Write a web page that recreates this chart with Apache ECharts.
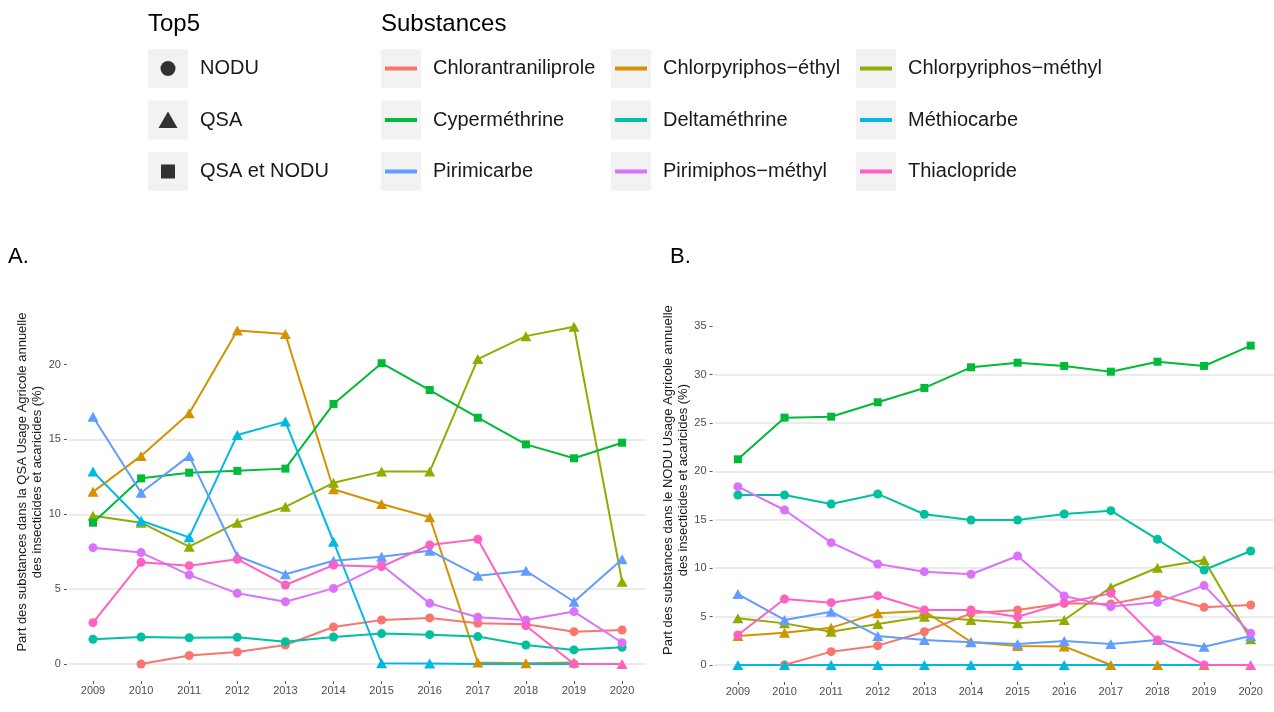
<!DOCTYPE html>
<html>
<head>
<meta charset="utf-8">
<script src="https://cdn.jsdelivr.net/npm/echarts@6/dist/echarts.min.js"></script>
<style>
  html, body { margin: 0; padding: 0; background: #ffffff; }
  #chart { width: 1274px; height: 712px; }
</style>
</head>
<body>
<div id="chart"></div>
<script>
// ---- Data -----------------------------------------------------------------
const years = ['2009', '2010', '2011', '2012', '2013', '2014', '2015', '2016', '2017', '2018', '2019', '2020'];

const substances = [
  'Chlorantraniliprole', 'Chlorpyriphos−éthyl', 'Chlorpyriphos−méthyl',
  'Cyperméthrine', 'Deltaméthrine', 'Méthiocarbe',
  'Pirimicarbe', 'Pirimiphos−méthyl', 'Thiaclopride'
];
const substanceColors = ['#F8766D', '#D39200', '#93AA00', '#00BA38', '#00C19F', '#00B9E3', '#619CFF', '#DB72FB', '#FF61C3'];

// Share of each substance in the annual agricultural QSA of insecticides/acaricides (%)
const qsaChlorantraniliprole = [null, 0, 0.57, 0.8, 1.27, 2.47, 2.94, 3.08, 2.72, 2.65, 2.16, 2.27];
const qsaChlorpyriphosEthyl = [11.5, 13.9, 16.75, 22.27, 22.04, 11.67, 10.69, 9.8, 0.1, 0.05, 0.1, null];
const qsaChlorpyriphosMethyl = [9.9, 9.44, 7.84, 9.44, 10.5, 12.1, 12.85, 12.85, 20.37, 21.9, 22.53, 5.5];
const qsaCypermethrine = [9.44, 12.4, 12.78, 12.9, 13.05, 17.37, 20.09, 18.3, 16.45, 14.67, 13.74, 14.78];
const qsaDeltamethrine = [1.65, 1.8, 1.75, 1.78, 1.49, 1.8, 2.03, 1.96, 1.83, 1.27, 0.94, 1.12];
const qsaMethiocarbe = [12.85, 9.57, 8.46, 15.3, 16.19, 8.17, 0.05, 0.03, 0, 0, 0, 0];
const qsaPirimicarbe = [16.52, 11.44, 13.9, 7.21, 5.99, 6.9, 7.17, 7.57, 5.9, 6.23, 4.16, 6.99];
const qsaPirimiphosMethyl = [7.77, 7.44, 5.95, 4.72, 4.16, 5.05, 6.61, 4.05, 3.12, 2.94, 3.5, 1.42];
const qsaThiaclopride = [2.76, 6.79, 6.57, 7.0, 5.28, 6.6, 6.5, 7.95, 8.33, 2.56, 0, 0];

// Share of each substance in the annual agricultural NODU of insecticides/acaricides (%)
const noduChlorantraniliprole = [null, 0, 1.38, 2.0, 3.44, 5.34, 5.68, 6.37, 6.3, 7.23, 5.96, 6.2];
const noduChlorpyriphosEthyl = [3.0, 3.34, 3.86, 5.34, 5.58, 2.38, 1.97, 1.92, 0, 0, 0, null];
const noduChlorpyriphosMethyl = [4.82, 4.3, 3.44, 4.24, 4.99, 4.65, 4.3, 4.65, 8.03, 10.05, 10.85, 2.65];
const noduCypermethrine = [21.25, 25.55, 25.65, 27.14, 28.62, 30.75, 31.23, 30.89, 30.3, 31.33, 30.89, 32.99];
const noduDeltamethrine = [17.56, 17.56, 16.63, 17.67, 15.57, 14.98, 14.98, 15.6, 15.94, 12.98, 9.81, 11.78];
const noduMethiocarbe = [0, 0, 0, 0, 0, 0, 0, 0, 0, 0, 0, 0];
const noduPirimicarbe = [7.33, 4.65, 5.51, 3.0, 2.58, 2.34, 2.17, 2.48, 2.17, 2.58, 1.89, 3.0];
const noduPirimiphosMethyl = [18.42, 16.01, 12.64, 10.43, 9.64, 9.37, 11.26, 7.13, 6.03, 6.47, 8.2, 3.27];
const noduThiaclopride = [3.1, 6.82, 6.44, 7.16, 5.68, 5.68, 4.99, 6.4, 7.4, 2.58, 0, 0];

// Top5 membership per year: N = NODU, Q = QSA, B = QSA et NODU, null = none
const top5Chlorantraniliprole = [null, 'N', 'N', 'N', 'N', 'N', 'N', 'N', 'N', 'N', 'N', 'N'];
const top5ChlorpyriphosEthyl = ['Q', 'Q', 'Q', 'Q', 'Q', 'Q', 'Q', 'Q', 'Q', 'Q', 'Q', null];
const top5ChlorpyriphosMethyl = ['Q', 'Q', 'Q', 'Q', 'Q', 'Q', 'Q', 'Q', 'Q', 'Q', 'Q', 'Q'];
const top5Cypermethrine = ['B', 'B', 'B', 'B', 'B', 'B', 'B', 'B', 'B', 'B', 'B', 'B'];
const top5Deltamethrine = ['N', 'N', 'N', 'N', 'N', 'N', 'N', 'N', 'N', 'N', 'N', 'N'];
const top5Methiocarbe = ['Q', 'Q', 'Q', 'Q', 'Q', 'Q', 'Q', 'Q', null, null, null, null];
const top5Pirimicarbe = ['Q', 'Q', 'Q', 'Q', 'Q', 'Q', 'Q', 'Q', 'Q', 'Q', 'Q', 'Q'];
const top5PirimiphosMethyl = ['N', 'N', 'N', 'N', 'N', 'N', 'N', 'N', 'N', 'N', 'N', 'N'];
const top5Thiaclopride = ['N', 'N', 'N', 'N', 'N', 'N', 'N', 'N', 'N', 'N', 'N', 'Q'];

const top5Names = ['NODU', 'QSA', 'QSA et NODU'];
const yTicksQsa = [0, 5, 10, 15, 20];
const yTicksNodu = [0, 5, 10, 15, 20, 25, 30, 35];

// ---- Assembly ---------------------------------------------------------------
const qsa = [qsaChlorantraniliprole, qsaChlorpyriphosEthyl, qsaChlorpyriphosMethyl, qsaCypermethrine,
  qsaDeltamethrine, qsaMethiocarbe, qsaPirimicarbe, qsaPirimiphosMethyl, qsaThiaclopride];
const nodu = [noduChlorantraniliprole, noduChlorpyriphosEthyl, noduChlorpyriphosMethyl, noduCypermethrine,
  noduDeltamethrine, noduMethiocarbe, noduPirimicarbe, noduPirimiphosMethyl, noduThiaclopride];
const top5 = [top5Chlorantraniliprole, top5ChlorpyriphosEthyl, top5ChlorpyriphosMethyl, top5Cypermethrine,
  top5Deltamethrine, top5Methiocarbe, top5Pirimicarbe, top5PirimiphosMethyl, top5Thiaclopride];

const FONT = '"Liberation Sans", Arial, sans-serif';
const shapeSymbol = { N: 'circle', Q: 'triangle', B: 'rect' };
const shapeSize = { N: 9, Q: [11, 10], B: 8 };

function lineSeries(panel, values, i) {
  return {
    type: 'line', name: substances[i], xAxisIndex: panel, yAxisIndex: panel,
    data: values.map(v => (v == null ? '-' : v)),
    showSymbol: false, clip: false, z: 2,
    color: substanceColors[i],
    lineStyle: { color: substanceColors[i], width: 2 },
    emphasis: { disabled: true }
  };
}

function pointSeries(panel, values, i) {
  return {
    type: 'scatter', name: substances[i], xAxisIndex: panel, yAxisIndex: panel,
    data: values.map((v, k) => {
      const s = top5[i][k];
      if (v == null || s == null) return '-';
      return { value: v, symbol: shapeSymbol[s], symbolSize: shapeSize[s] };
    }),
    clip: false, z: 3,
    color: substanceColors[i],
    itemStyle: { color: substanceColors[i], opacity: 1 },
    emphasis: { disabled: true }
  };
}

const series = [];
qsa.forEach((v, i) => series.push(lineSeries(0, v, i)));
nodu.forEach((v, i) => series.push(lineSeries(1, v, i)));
qsa.forEach((v, i) => series.push(pointSeries(0, v, i)));
nodu.forEach((v, i) => series.push(pointSeries(1, v, i)));
// empty series that carry the shape legend
top5Names.forEach(n => series.push({
  type: 'scatter', name: n, data: [], xAxisIndex: 0, yAxisIndex: 0,
  color: '#000000', itemStyle: { color: '#000000' }
}));

function categoryAxis(gridIndex) {
  return {
    type: 'category', gridIndex, data: years, boundaryGap: true, offset: 17,
    axisLine: { show: false, onZero: false },
    axisTick: { show: true, alignWithLabel: true, length: 3, lineStyle: { color: '#555555', width: 1 } },
    axisLabel: { interval: 0, fontSize: 11, color: '#4d4d4d', margin: 4, fontFamily: FONT },
    splitLine: { show: false }
  };
}

function valueAxis(gridIndex, max, ticks, name, gap) {
  return {
    type: 'value', gridIndex, min: 0, max, offset: 2,
    name, nameLocation: 'middle', nameRotate: 90, nameGap: gap,
    nameTextStyle: { fontSize: 13, color: '#1a1a1a', lineHeight: 15, fontFamily: FONT, align: 'center' },
    axisLine: { show: false, onZero: false },
    axisTick: { show: true, length: 3, customValues: ticks, lineStyle: { color: '#555555', width: 1 } },
    axisLabel: { customValues: ticks, fontSize: 11, color: '#4d4d4d', margin: 6, fontFamily: FONT },
    splitLine: { show: true, showMaxLine: false, lineStyle: { color: '#e4e4e4', width: 1.5 } }
  };
}

// ---- Legend layout ----------------------------------------------------------
const keyW = 40, keyH = 39, keyPitch = 51.5, keyTop = 49;
const keyColumns = [148, 381, 611, 856];
const barIcon = 'path://M0,0M40,39M4,17.5L36,17.5L36,21.5L4,21.5Z';
const shapeIcons = [
  'path://M0,0M40,39M12.5,19.5A7.5,7.5,0,1,1,27.5,19.5A7.5,7.5,0,1,1,12.5,19.5Z',
  'path://M0,0M40,39M20,11L29.5,27.5L10.5,27.5Z',
  'path://M0,0M40,39M13,12.5L27,12.5L27,26.5L13,26.5Z'
];

function legendBlock(left, items) {
  return {
    orient: 'vertical', left, top: keyTop, padding: 0, z: 5,
    itemWidth: keyW, itemHeight: keyH, itemGap: keyPitch - keyH,
    selectedMode: false,
    textStyle: { fontSize: 20, color: '#1a1a1a', fontFamily: FONT, padding: [0, 0, 0, 7] },
    data: items
  };
}

const legends = [
  legendBlock(keyColumns[0], top5Names.map((n, k) => ({ name: n, icon: shapeIcons[k], itemStyle: { color: '#000000', borderWidth: 0 } })))
];
for (let c = 0; c < 3; c++) {
  const items = [];
  for (let r = 0; r < 3; r++) {
    const i = r * 3 + c;
    items.push({ name: substances[i], icon: barIcon, itemStyle: { color: substanceColors[i], borderWidth: 0 } });
  }
  legends.push(legendBlock(keyColumns[c + 1], items));
}

const keyBoxes = [];
keyColumns.forEach(x => {
  for (let r = 0; r < 3; r++) {
    keyBoxes.push({ type: 'rect', left: x, top: keyTop + r * keyPitch, z: 0, silent: true,
      shape: { width: keyW, height: keyH }, style: { fill: '#f2f2f2' } });
  }
});

const titleStyle = (size) => ({ fontSize: size, fontWeight: 'normal', color: '#000000', fontFamily: FONT });

const option = {
  animation: false,
  backgroundColor: '#ffffff',
  title: [
    { text: 'Top5', left: 148, top: 12, padding: 0, textStyle: titleStyle(24) },
    { text: 'Substances', left: 381, top: 12, padding: 0, textStyle: titleStyle(24) },
    { text: 'A.', left: 8, top: 246, padding: 0, textStyle: titleStyle(22) },
    { text: 'B.', left: 670, top: 246, padding: 0, textStyle: titleStyle(22) }
  ],
  legend: legends,
  graphic: { elements: keyBoxes },
  grid: [
    { left: 68.95, width: 577.2, top: 300.2, bottom: 48, containLabel: false },
    { left: 714.6, width: 568, top: 295.2, bottom: 47, containLabel: false }
  ],
  xAxis: [categoryAxis(0), categoryAxis(1)],
  yAxis: [
    valueAxis(0, 24.3, yTicksQsa,
      'Part des substances dans la QSA Usage Agricole annuelle\ndes insecticides et acaricides (%)', 22),
    valueAxis(1, 38.2, yTicksNodu,
      'Part des substances dans le NODU Usage Agricole annuelle\ndes insecticides et acaricides (%)', 21)
  ],
  series
};

const chart = echarts.init(document.getElementById('chart'), null, { renderer: 'canvas' });
chart.setOption(option);
</script>
</body>
</html>
